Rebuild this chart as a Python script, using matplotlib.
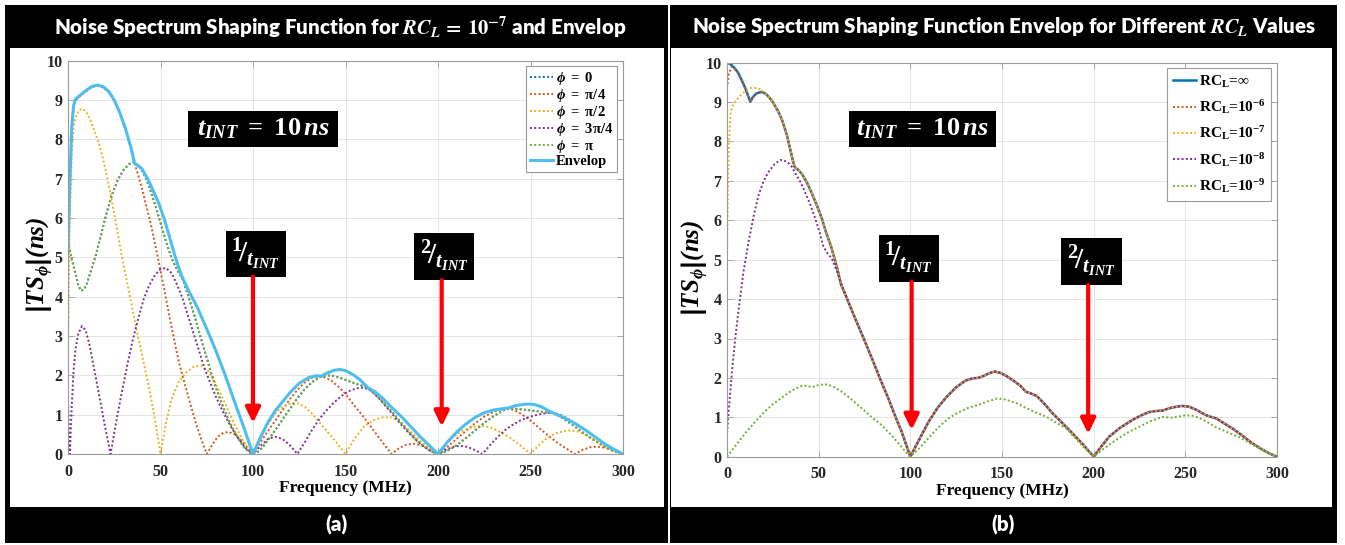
import matplotlib
matplotlib.use('Agg')
import matplotlib.pyplot as plt
from matplotlib.patches import Rectangle

plt.rcParams['font.family'] = ['Liberation Serif', 'DejaVu Serif']
plt.rcParams['font.weight'] = 'bold'
plt.rcParams['mathtext.fontset'] = 'custom'
plt.rcParams['mathtext.rm'] = 'Liberation Serif:bold'
plt.rcParams['mathtext.it'] = 'Liberation Serif:italic:bold'
plt.rcParams['mathtext.bf'] = 'Liberation Serif:bold'
plt.rcParams['mathtext.bfit'] = 'Liberation Serif:italic:bold'
plt.rcParams['mathtext.fallback'] = 'stix'

# ---------------- data: (frequency MHz, |TS| ns) ----------------
# panel (a): RC_L = 1e-7, phases
env_a = [(0, 5.2), (1, 6.9), (2, 8.3), (3, 8.85), (4, 9.02), (7, 9.14), (10, 9.25), (13, 9.35), (16, 9.38),
         (19, 9.34), (22, 9.22), (25, 9.0), (28, 8.68), (31, 8.28), (34, 7.8), (36, 7.39), (38, 7.33), (40, 7.25),
         (43, 7.0), (46, 6.7), (49, 6.38), (52, 5.98), (55, 5.5), (58, 5.0), (60, 4.72), (62, 4.47), (65, 4.17),
         (70, 3.72), (75, 3.18), (80, 2.62), (85, 2.0), (90, 1.33), (95, 0.68), (100, 0.0), (104, 0.42), (108, 0.8),
         (112, 1.1), (116, 1.33), (120, 1.56), (125, 1.8), (130, 1.94), (134, 1.99), (137, 1.98), (140, 2.06),
         (144, 2.13), (147, 2.15), (150, 2.12), (154, 2.02), (158, 1.88), (162, 1.69), (166, 1.58), (170, 1.42),
         (175, 1.18), (180, 0.96), (185, 0.71), (190, 0.46), (195, 0.23), (200, 0.0), (205, 0.3), (210, 0.55),
         (215, 0.76), (220, 0.93), (225, 1.05), (230, 1.12), (235, 1.15), (238, 1.17), (242, 1.23), (246, 1.26),
         (249, 1.27), (252, 1.26), (256, 1.2), (260, 1.09), (262, 1.05), (266, 0.97), (270, 0.88), (275, 0.75),
         (280, 0.6), (285, 0.43), (290, 0.26), (295, 0.12), (300, 0.0)]

# phi = pi (phi = 0 lies exactly underneath it)
pi_a = [(0, 5.4), (2, 4.95), (4, 4.6), (5.5, 4.3), (7, 4.15), (8.5, 4.18), (10, 4.3), (12, 4.6), (15, 5.05),
        (18, 5.6), (21, 6.15), (24, 6.62), (27, 6.98), (30, 7.22), (33, 7.37), (35.5, 7.42), (38, 7.34), (41, 7.13),
        (44, 6.78), (47, 6.35), (50, 5.88), (53, 5.4), (56, 4.98), (59, 4.68), (62, 4.45), (65, 4.02), (68, 3.57),
        (71, 3.08), (74, 2.6), (77, 2.12), (80, 1.68), (83, 1.3), (86, 0.95), (89, 0.65), (92, 0.4), (95, 0.18),
        (98, 0.04), (100, 0.0), (102, 0.03), (105, 0.16), (108, 0.35), (112, 0.6), (116, 0.88), (120, 1.15),
        (124, 1.42), (128, 1.65), (132, 1.83), (136, 1.95), (140, 2.0), (144, 1.98), (148, 1.92), (152, 1.85),
        (156, 1.78), (160, 1.72), (162, 1.69), (166, 1.52), (170, 1.33), (175, 1.08), (180, 0.8), (185, 0.52),
        (190, 0.28), (195, 0.1), (198, 0.03), (200, 0.0), (202, 0.02), (205, 0.08), (210, 0.22), (215, 0.4),
        (220, 0.6), (225, 0.79), (230, 0.96), (235, 1.1), (238, 1.16), (242, 1.15), (248, 1.12), (255, 1.08),
        (262, 1.04), (266, 0.95), (270, 0.83), (275, 0.66), (280, 0.49), (285, 0.33), (290, 0.19), (295, 0.07),
        (300, 0.0)]
zero_a = pi_a

pi4_a = [(0, 5.1), (1, 6.8), (2, 8.25), (3, 8.83), (4, 8.98), (7, 9.12), (10, 9.23), (13, 9.33), (16, 9.36),
         (19, 9.32), (22, 9.2), (25, 8.98), (28, 8.66), (31, 8.26), (34, 7.78), (36, 7.39), (38, 7.08), (40, 6.75),
         (42, 6.37), (44, 6.0), (46, 5.58), (48, 5.12), (50, 4.66), (52, 4.2), (54, 3.7), (56, 3.22), (58, 2.76),
         (60, 2.33), (63, 1.8), (66, 1.3), (69, 0.8), (72, 0.38), (75, 0.0), (78, 0.24), (81, 0.44), (84, 0.54),
         (87, 0.56), (90, 0.5), (93, 0.38), (96, 0.22), (100, 0.0), (104, 0.3), (108, 0.58), (112, 0.84),
         (116, 1.12), (120, 1.4), (124, 1.63), (128, 1.82), (132, 1.94), (135, 1.98), (138, 1.96), (142, 1.88),
         (146, 1.72), (150, 1.53), (155, 1.22), (160, 0.93), (165, 0.61), (170, 0.3), (175, 0.0), (179, 0.15),
         (183, 0.24), (187, 0.26), (191, 0.22), (195, 0.13), (200, 0.0), (205, 0.18), (210, 0.38), (215, 0.58),
         (220, 0.78), (225, 0.95), (230, 1.07), (234, 1.14), (237, 1.16), (241, 1.12), (245, 1.02), (250, 0.85),
         (255, 0.65), (260, 0.45), (265, 0.27), (270, 0.12), (274, 0.0), (278, 0.1), (282, 0.17), (286, 0.19),
         (290, 0.16), (295, 0.09), (300, 0.0)]

pi2_a = [(0, 2.7), (0.5, 4.5), (1, 6.0), (2, 7.6), (3, 8.3), (4, 8.55), (6, 8.75), (8, 8.78), (10, 8.68),
         (12, 8.5), (14, 8.25), (17, 7.85), (20, 7.3), (23, 6.6), (26, 5.85), (29, 5.05), (32, 4.35), (35, 3.65),
         (38, 2.95), (41, 2.3), (44, 1.65), (47, 0.88), (50, 0.0), (53, 0.8), (56, 1.4), (60, 1.85), (64, 2.08),
         (68, 2.22), (72, 2.25), (76, 2.1), (80, 1.78), (85, 1.28), (90, 0.75), (95, 0.3), (100, 0.0), (104, 0.4),
         (108, 0.75), (112, 1.03), (116, 1.2), (120, 1.28), (124, 1.29), (128, 1.2), (132, 1.02), (136, 0.8),
         (140, 0.58), (145, 0.3), (150, 0.0), (155, 0.4), (160, 0.7), (165, 0.86), (170, 0.93), (175, 0.93),
         (180, 0.8), (185, 0.58), (190, 0.35), (195, 0.15), (200, 0.0), (205, 0.3), (210, 0.5), (215, 0.63),
         (220, 0.7), (225, 0.71), (230, 0.65), (235, 0.52), (240, 0.38), (245, 0.2), (250, 0.0), (255, 0.25),
         (260, 0.44), (265, 0.55), (270, 0.6), (275, 0.58), (280, 0.48), (285, 0.35), (290, 0.2), (295, 0.08),
         (300, 0.0)]

pi34_a = [(0, 1.33), (0.5, 0.6), (1, 0.0), (2, 1.2), (3, 2.1), (4, 2.65), (5.5, 3.05), (7.5, 3.25), (9.5, 3.15),
          (11.5, 2.8), (14, 2.2), (17, 1.45), (20, 0.7), (23, 0.0), (26, 0.8), (29, 1.55), (32, 2.25), (35, 2.9),
          (38, 3.45), (41, 3.95), (44, 4.3), (47, 4.55), (50, 4.7), (53, 4.73), (56, 4.6), (59, 4.3), (62, 3.95),
          (65, 3.5), (68, 3.05), (71, 2.6), (74, 2.15), (77, 1.8), (80, 1.45), (84, 1.05), (88, 0.7), (92, 0.4),
          (96, 0.15), (100, 0.0), (104, 0.2), (108, 0.38), (112, 0.44), (116, 0.38), (120, 0.22), (124, 0.0),
          (128, 0.3), (132, 0.62), (136, 0.9), (140, 1.12), (144, 1.32), (148, 1.48), (152, 1.6), (156, 1.67),
          (160, 1.69), (164, 1.6), (168, 1.42), (172, 1.2), (176, 0.98), (180, 0.75), (184, 0.55), (188, 0.36),
          (192, 0.2), (196, 0.08), (200, 0.0), (204, 0.1), (208, 0.18), (212, 0.21), (216, 0.18), (220, 0.1),
          (224, 0.0), (228, 0.22), (232, 0.42), (236, 0.6), (240, 0.73), (244, 0.84), (248, 0.92), (252, 0.98),
          (256, 1.02), (260, 1.05), (262, 1.05), (266, 1.0), (270, 0.9), (275, 0.75), (280, 0.6), (285, 0.43),
          (290, 0.27), (295, 0.12), (300, 0.0)]

# panel (b): envelopes for different RC_L
inf_head = [(0, 10.0), (2, 9.96), (4, 9.87), (6, 9.75), (8, 9.56), (10, 9.35), (12.7, 9.01), (14, 9.12),
            (16, 9.22), (18.7, 9.26), (21, 9.22)]
rc6_head = [(0, 9.35), (1, 9.72), (2.5, 9.9), (4, 9.86), (6, 9.74), (8, 9.55), (10, 9.34), (12.7, 9.0),
            (14, 9.11), (16, 9.21), (18.7, 9.25), (21, 9.21)]
rc7_head = [(0, 5.1), (0.5, 6.8), (1, 7.8), (1.5, 8.4), (2, 8.7), (3, 8.9), (4, 8.98), (6, 9.1), (8, 9.2),
            (10, 9.28), (13.6, 9.37), (17, 9.35), (19, 9.3), (21, 9.22)]
rc8_head = [(0, 0.6), (1, 1.2), (2.7, 2.16), (4.5, 3.0), (6.4, 3.76), (9, 4.7), (11.8, 5.46), (14.5, 6.1),
            (17.2, 6.64), (20, 7.0), (22.7, 7.23), (26, 7.43), (29, 7.53), (31, 7.52), (33.6, 7.45), (35.5, 7.35),
            (37.2, 7.2), (39.5, 7.02), (41.7, 6.81), (45, 6.45), (48.1, 6.05), (50.5, 5.7), (52.6, 5.33),
            (55, 5.15), (57.2, 5.03), (60, 4.7), (62.6, 4.36)]
# common part of RC_L = inf, 1e-6, 1e-7 (and 1e-8 after ~63 MHz)
tail_b = [(23, 9.12), (25, 9.0), (28, 8.76), (30, 8.55), (32.7, 8.16), (35, 7.7), (36.8, 7.36), (39, 7.27),
          (41, 7.17), (44, 6.92), (46.3, 6.68), (49, 6.38), (51.7, 6.05), (54, 5.7), (57, 5.3), (60, 4.8),
          (62.2, 4.37), (66, 3.95), (70, 3.5), (75, 2.95), (79, 2.5), (84, 1.92), (88, 1.48), (92, 1.0),
          (95.3, 0.63), (100, 0.0), (105, 0.45), (110, 0.89), (115, 1.25), (120, 1.53), (125, 1.76), (130, 1.93),
          (134, 1.99), (137, 2.0), (140, 2.05), (143, 2.12), (146, 2.16), (149, 2.13), (152, 2.06), (156, 1.94),
          (160, 1.8), (163, 1.65), (166, 1.6), (169, 1.54), (173, 1.35), (177.6, 1.1), (183, 0.85), (188.5, 0.59),
          (194, 0.32), (200, 0.0), (204, 0.25), (208.5, 0.51), (214, 0.72), (221, 0.93), (226, 1.05), (230, 1.13),
          (234, 1.16), (237.5, 1.17), (240, 1.21), (243, 1.25), (248, 1.29), (252, 1.27), (256, 1.19), (261, 1.06),
          (264, 1.01), (267, 0.97), (271, 0.85), (275.6, 0.72), (281, 0.54), (286.5, 0.34), (292, 0.18),
          (296, 0.08), (300, 0.0)]
rc9_b = [(0, 0.0), (5, 0.3), (10, 0.6), (15.4, 0.89), (20, 1.12), (25, 1.33), (29.9, 1.5), (35, 1.67),
         (40.8, 1.8), (44, 1.8), (46.3, 1.76), (50, 1.82), (53.5, 1.84), (57, 1.8), (62.6, 1.65), (68, 1.45),
         (73.5, 1.23), (79, 1.0), (84.4, 0.8), (89, 0.58), (93.5, 0.34), (97, 0.15), (100, 0.0), (105, 0.22),
         (109.8, 0.47), (115, 0.73), (120.7, 0.97), (126, 1.12), (131.6, 1.24), (137, 1.31), (142, 1.4),
         (147.9, 1.48), (152, 1.45), (155.2, 1.4), (159.5, 1.33), (163, 1.24), (168, 1.13), (174, 1.02),
         (179, 0.88), (184.9, 0.72), (190, 0.47), (195, 0.22), (200, 0.0), (206, 0.22), (212, 0.42), (218, 0.6),
         (224.8, 0.76), (231, 0.9), (237.5, 1.01), (243, 0.99), (250, 1.05), (254, 1.04), (257.5, 0.99),
         (262, 0.88), (266.6, 0.75), (273, 0.62), (279.3, 0.5), (285, 0.35), (290, 0.22), (295, 0.1), (300, 0.0)]

rc_inf = inf_head + tail_b
rc_6 = rc6_head + tail_b
rc_7 = rc7_head + tail_b
rc_8 = rc8_head + [p for p in tail_b if p[0] > 63]

phase_labels = [r'$\mathbfit{\phi}\ \mathbf{=\ 0}$', r'$\mathbfit{\phi}\ \mathbf{=\ \pi/4}$',
                r'$\mathbfit{\phi}\ \mathbf{=\ \pi/2}$', r'$\mathbfit{\phi}\ \mathbf{=\ 3\pi/4}$',
                r'$\mathbfit{\phi}\ \mathbf{=\ \pi}$', 'Envelop']
rc_labels = ['RC$_{\\mathbf{L}}$=\u221e', 'RC$_{\\mathbf{L}}$=10$^{\\mathbf{-6}}$',
             'RC$_{\\mathbf{L}}$=10$^{\\mathbf{-7}}$', 'RC$_{\\mathbf{L}}$=10$^{\\mathbf{-8}}$',
             'RC$_{\\mathbf{L}}$=10$^{\\mathbf{-9}}$']
c_blue, c_orange, c_yellow, c_purple, c_green, c_light = '#0072BD', '#D95319', '#EDB120', '#7E2F8E', '#77AC30', '#4DBEEE'
dots = (0, (1, 1.2))

W, H = 1345, 545
fig = plt.figure(figsize=(W / 100, H / 100), dpi=100)


def fig_rect(x0, y0, x1, y1, color):
    fig.add_artist(Rectangle((x0 / W, 1 - y1 / H), (x1 - x0) / W, (y1 - y0) / H, transform=fig.transFigure,
                             facecolor=color, edgecolor='none', zorder=-2))


def fig_txt(x, y, s, **kw):
    fig.text(x / W, 1 - y / H, s, ha='center', va='center', **kw)


def xy(series):
    return [p[0] for p in series], [p[1] for p in series]


def black_box(ax, x0, x1, y0, y1, s, size):
    ax.add_patch(Rectangle((x0, y0), x1 - x0, y1 - y0, facecolor='black', edgecolor='none', zorder=6))
    ax.text((x0 + x1) / 2, (y0 + y1) / 2, s, color='white', ha='center', va='center', fontsize=size, zorder=7)


def red_arrow(ax, x, y0, y1):
    ax.annotate('', xy=(x, y1), xytext=(x, y0), zorder=6,
                arrowprops=dict(arrowstyle='-|>,head_length=0.45,head_width=0.22', color='red', lw=3,
                                shrinkA=0, shrinkB=0, mutation_scale=20))


def style_axes(ax):
    ax.set_xlim(0, 300)
    ax.set_ylim(0, 10)
    ax.set_xticks(range(0, 301, 50))
    ax.set_yticks(range(0, 11))
    ax.grid(True, color='#e4e4e4', lw=0.7)
    ax.set_axisbelow(True)
    for sp in ax.spines.values():
        sp.set_color('#9a9a9a')
        sp.set_linewidth(0.8)
    ax.tick_params(direction='in', top=True, right=True, length=4, width=0.6, color='#9a9a9a',
                   labelsize=11.5, labelcolor='#262626')
    ax.tick_params(axis='x', pad=7)
    ax.tick_params(axis='y', pad=4)


# panel frames, title bars and bottom bars
fig_rect(5, 5, 668, 543, 'black')
fig_rect(10, 48, 664, 507, 'white')
fig_rect(670, 5, 1337, 543, 'black')
fig_rect(671, 48, 1332, 507, 'white')

title_kw = dict(color='white', fontsize=14.8, family='Lato', fontweight='heavy', math_fontfamily='stix')
fig_txt(340, 27, r'Noise Spectrum Shaping Function for $RC_L\,=\,10^{-7}$ and Envelop', **title_kw)
fig_txt(1004, 27, r'Noise Spectrum Shaping Function Envelop for Different $RC_L$ Values', **title_kw)
fig_txt(336, 525, '(a)', **title_kw)
fig_txt(1003, 525, '(b)', **title_kw)

ylab = r'$\left|\mathbfit{TS}_{\mathbfit{\phi}}\right|\mathbfit{(ns)}$'
tint = r'$\mathbfit{t}_{\mathbfit{INT}}\ {\mathbf{=}}\ \mathbf{10}\,\mathbfit{ns}$'
inv1 = r'${}^{\mathbf{1}}\!/{}_{\mathbfit{t}_{\mathbfit{INT}}}$'
inv2 = r'${}^{\mathbf{2}}\!/{}_{\mathbfit{t}_{\mathbfit{INT}}}$'

# ---------------- panel (a) ----------------
ax1 = fig.add_axes([68 / W, 1 - 454 / H, 555 / W, 393.3 / H])
style_axes(ax1)
ax1.plot(*xy(zero_a), color=c_blue, lw=1.4, ls=dots, label=phase_labels[0])
ax1.plot(*xy(pi4_a), color=c_orange, lw=1.4, ls=dots, label=phase_labels[1])
ax1.plot(*xy(pi2_a), color=c_yellow, lw=1.4, ls=dots, label=phase_labels[2])
ax1.plot(*xy(pi34_a), color=c_purple, lw=1.4, ls=dots, label=phase_labels[3])
ax1.plot(*xy(pi_a), color=c_green, lw=1.4, ls=dots, label=phase_labels[4])
ax1.plot(*xy(env_a), color=c_light, lw=2.2, label=phase_labels[5])
leg = ax1.legend(loc='upper right', bbox_to_anchor=(0.989, 0.986), borderaxespad=0, fancybox=False,
                 edgecolor='#9a9a9a', framealpha=1, fontsize=10.5, handlelength=1.6, handletextpad=0.2,
                 labelspacing=0.0, borderpad=0.25)
leg.get_frame().set_linewidth(0.8)
black_box(ax1, 64.9, 145.9, 7.80, 8.72, tint, 19)
black_box(ax1, 85.2, 117.7, 4.51, 5.67, inv1, 21)
black_box(ax1, 187.0, 219.5, 4.42, 5.62, inv2, 21)
red_arrow(ax1, 100, 4.51, 0.79)
red_arrow(ax1, 202, 4.42, 0.70)
fig_txt(40, 265, ylab, rotation=90, fontsize=18)
fig_txt(345, 488, 'Frequency (MHz)', fontsize=12.5)

# ---------------- panel (b) ----------------
ax2 = fig.add_axes([727 / W, 1 - 456.7 / H, 550 / W, 394 / H])
style_axes(ax2)
ax2.plot(*xy(rc_inf), color=c_blue, lw=1.8, label=rc_labels[0])
ax2.plot(*xy(rc_6), color=c_orange, lw=1.4, ls=dots, label=rc_labels[1])
ax2.plot(*xy(rc_7), color=c_yellow, lw=1.4, ls=dots, label=rc_labels[2])
ax2.plot(*xy(rc_8), color=c_purple, lw=1.4, ls=dots, label=rc_labels[3])
ax2.plot(*xy(rc9_b), color=c_green, lw=1.4, ls=dots, label=rc_labels[4])
leg2 = ax2.legend(loc='upper right', bbox_to_anchor=(0.989, 0.986), borderaxespad=0, fancybox=False,
                  edgecolor='#9a9a9a', framealpha=1, fontsize=11, handlelength=1.5, handletextpad=0.2,
                  labelspacing=0.55, borderpad=0.35)
leg2.get_frame().set_linewidth(0.8)
black_box(ax2, 66.4, 146.8, 7.86, 8.78, tint, 19)
black_box(ax2, 82.7, 115.4, 4.44, 5.63, inv1, 21)
black_box(ax2, 182.4, 215.4, 4.36, 5.55, inv2, 21)
red_arrow(ax2, 100.7, 4.44, 0.68)
red_arrow(ax2, 197, 4.36, 0.58)
fig_txt(694, 268, ylab, rotation=90, fontsize=18)
fig_txt(1002, 491, 'Frequency (MHz)', fontsize=12.5)

fig.savefig('out.png', dpi=100, facecolor='white')
